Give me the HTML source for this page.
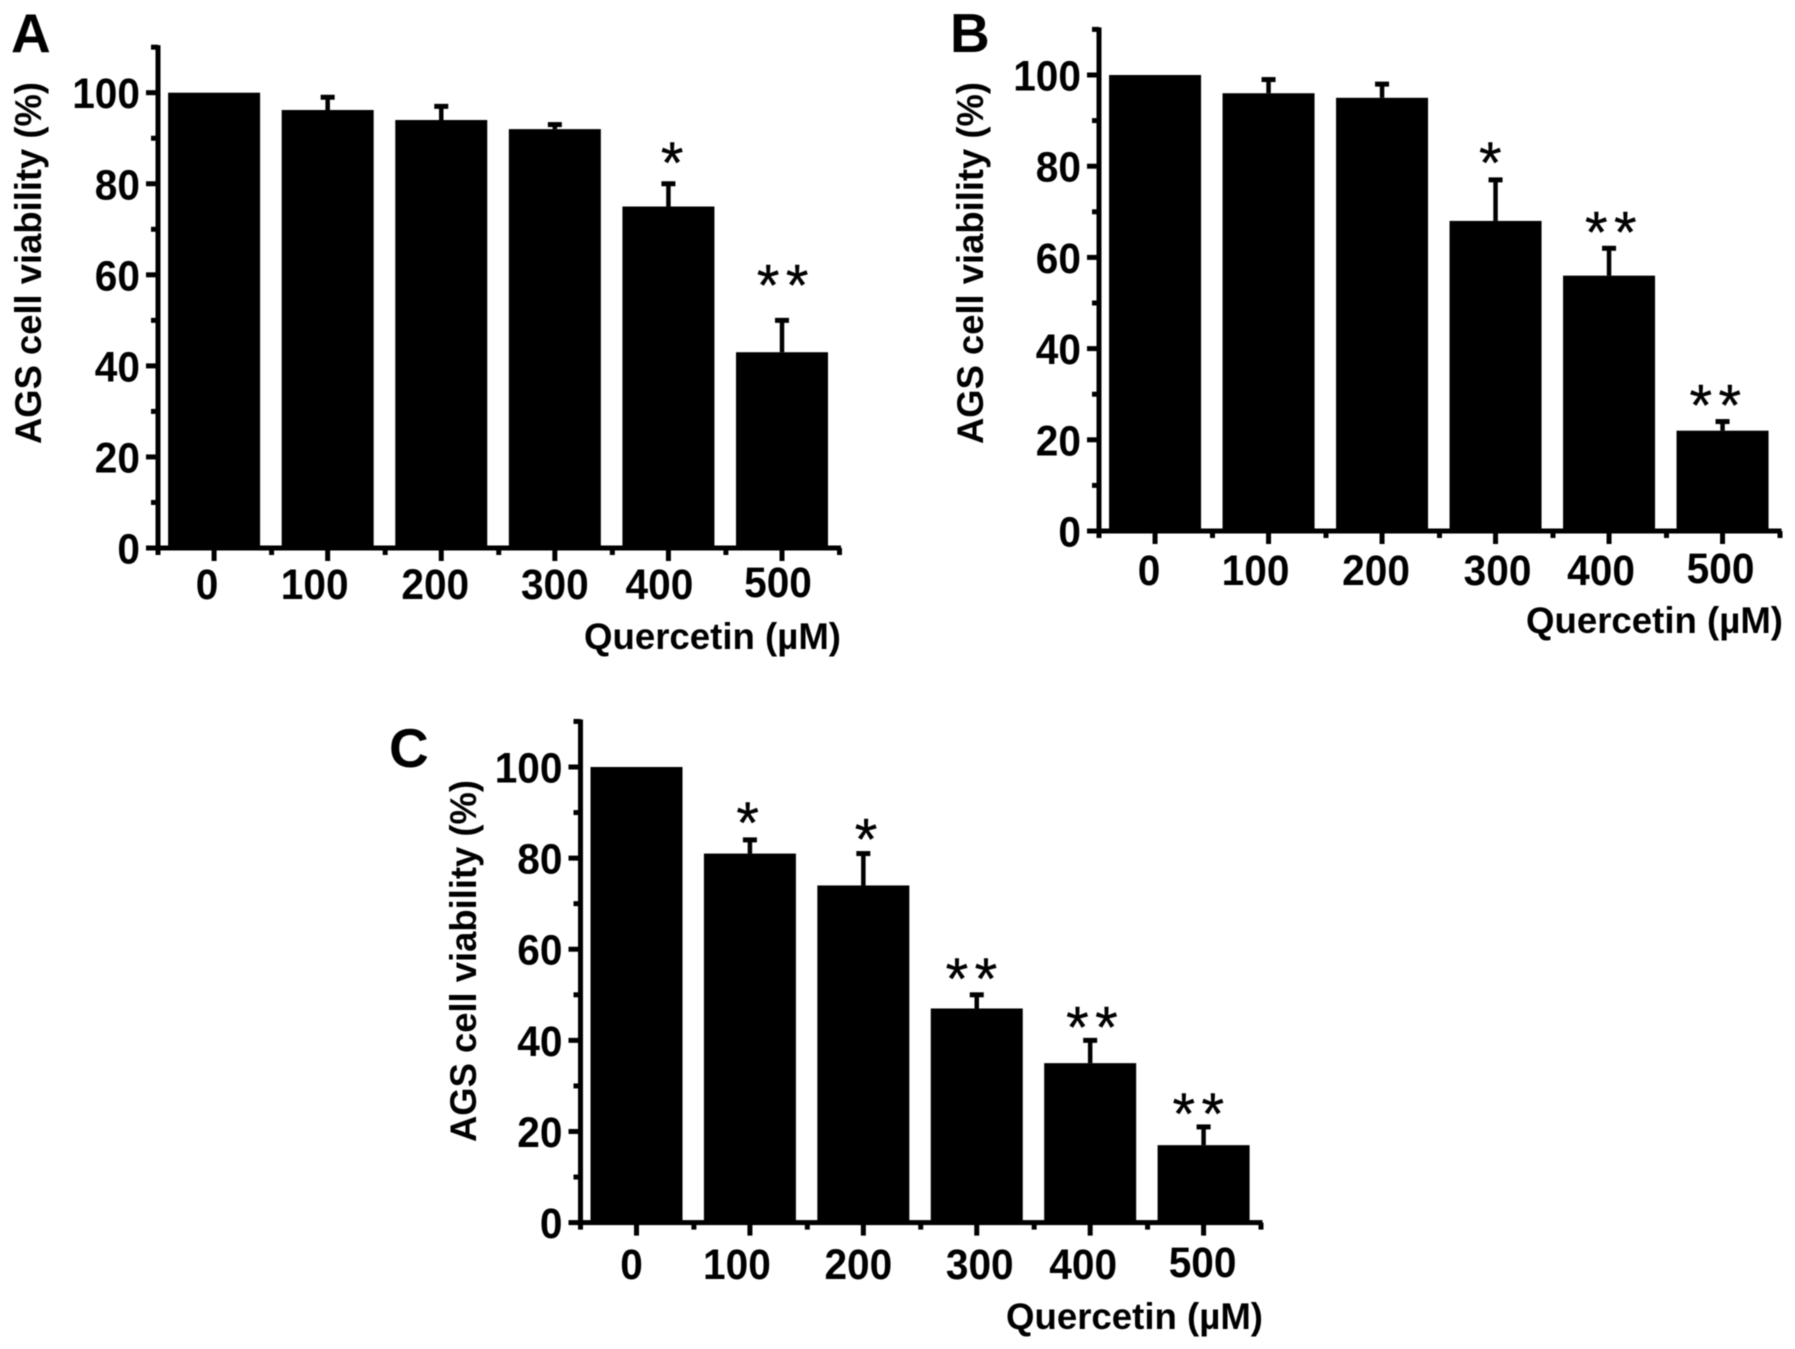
<!DOCTYPE html>
<html>
<head>
<meta charset="utf-8">
<title>AGS cell viability vs Quercetin</title>
<style>
html,body{margin:0;padding:0;background:#fff;}
svg{display:block;filter:blur(0.5px);}
text{font-family:"Liberation Sans",Arial,sans-serif;font-weight:bold;fill:#000;}
</style>
</head>
<body>
<svg id="figure" width="1795" height="1349" viewBox="0 0 1795 1349" xmlns="http://www.w3.org/2000/svg"></svg>
<script>
const categories = ["0", "100", "200", "300", "400", "500"];
const yTickValues = [0, 20, 40, 60, 80, 100];
const yMinorValues = [10, 30, 50, 70, 90, 110];
const panelAValues = [100, 96.2, 94, 92, 75, 43];
const panelAErrorTops = [100, 99, 97, 93, 80, 50];
const panelAStars = [0, 0, 0, 0, 1, 2];
const panelBValues = [100, 96, 95, 68, 56, 22];
const panelBErrorTops = [100, 99, 98, 77, 62, 24];
const panelBStars = [0, 0, 0, 1, 2, 2];
const panelCValues = [100, 81, 74, 47, 35, 17];
const panelCErrorTops = [100, 84, 81, 50, 40, 21];
const panelCStars = [0, 1, 1, 2, 2, 2];
const yTitle = "AGS cell viability (%)";
const xTitle = "Quercetin (\u00B5M)";

const NS = "http://www.w3.org/2000/svg";
const root = document.getElementById("figure");

function mk(parent, tag, attrs, txt) {
  const el = document.createElementNS(NS, tag);
  for (const k in attrs) el.setAttribute(k, attrs[k]);
  if (txt !== undefined) el.textContent = txt;
  parent.appendChild(el);
  return el;
}

function drawPanel(p) {
  const g = mk(root, "g", {});
  
  

  const step = (p.right - p.x0) / categories.length;
  const xPos = i => p.x0 + step * (i + 0.5) - 0.7;
  const yPos = v => p.base - (p.base - p.y100) * v / 100;
  const digitWidth = 22.6;

  const letter = mk(g, "text", {x: p.letterX, y: p.letterY, "font-size": 55}, p.letter);
  
  

  p.values.forEach((v, i) => {
    const cx = xPos(i);
    const top = yPos(p.errs[i]);
    if (p.errs[i] > v) {
      const stem = mk(g, "rect", {x: cx - 2.25, y: top, width: 4.5, height: yPos(v) - top, fill: "#000"});
      
      
      const cap = mk(g, "rect", {x: cx - 7, y: top - 2.5, width: 14, height: 5, fill: "#000"});
      
      
    }
    const bar = mk(g, "rect", {x: cx - 46, y: yPos(v), width: 92, height: p.base - yPos(v), fill: "#000"});
    
    

    for (let s = 0; s < p.stars[i]; s++) {
      const n = p.stars[i];
      const sx = cx + 0.7 + p.starNudge[i] + (s - (n - 1) / 2) * 29;
      const sy = top - p.starGap[i] + 28;
      const star = mk(g, "text", {x: sx, y: sy, "font-size": 58, "text-anchor": "middle", stroke: "#000", "stroke-width": 0.4, style: "font-weight:normal"}, "*");
      
      
    }
  });

  const yAxis = mk(g, "rect", {x: p.x0 - 2.5, y: yPos(110) - 2, width: 5, height: p.base - yPos(110) + 4, fill: "#000"});
  
  
  const xAxis = mk(g, "rect", {x: p.x0 - 2.5, y: p.base - 2.5, width: p.right - p.x0 + 4, height: 5, fill: "#000"});
  
  

  yTickValues.forEach(v => {
    const t = mk(g, "rect", {x: p.x0 - 12, y: yPos(v) - 2.5, width: 12, height: 5, fill: "#000"});
    
    
    const s = String(v);
    const lab = mk(g, "text", {x: p.x0 - 18, y: yPos(v) + 15.5, "font-size": 43, "text-anchor": "end", textLength: s.length * digitWidth, lengthAdjust: "spacingAndGlyphs"}, s);
    
    
  });
  yMinorValues.forEach(v => {
    const t = mk(g, "rect", {x: p.x0 - 7, y: yPos(v) - 2.5, width: 7, height: 5, fill: "#000"});
    
    
  });

  categories.forEach((c, i) => {
    const t = mk(g, "rect", {x: xPos(i) - 2.5, y: p.base, width: 5, height: 13, fill: "#000"});
    
    
    const lab = mk(g, "text", {x: xPos(i) + 1 + p.labelNudge[i], y: p.labelY - (i === 5 ? 2 : 0), "font-size": 43, "text-anchor": "middle", textLength: c.length * digitWidth, lengthAdjust: "spacingAndGlyphs"}, c);
    
    
  });
  for (let i = 0; i <= categories.length; i++) {
    const t = mk(g, "rect", {x: p.x0 + step * i - 2.5, y: p.base, width: 5, height: 7, fill: "#000"});
    
    
  }

  const yt = mk(g, "text", {
    transform: "translate(" + p.yTitleX + "," + p.yTitleBottom + ") rotate(-90)",
    "font-size": 37, textLength: 362, lengthAdjust: "spacingAndGlyphs"
  }, yTitle);
  
  

  const xt = mk(g, "text", {
    x: p.xTitleX, y: p.xTitleY, "font-size": 37, textLength: 257, lengthAdjust: "spacingAndGlyphs"
  }, xTitle);
  
  
}

drawPanel({
  letter: "A", letterX: 11, letterY: 52,
  x0: 158, right: 839.5, base: 548, y100: 92.7,
  values: panelAValues, errs: panelAErrorTops, stars: panelAStars,
  starNudge: [0, 0, 0, 0, 3, 0], starGap: [0, 0, 0, 0, 29, 43],
  labelNudge: [-8, -14, -7, -1, -10, -5], labelY: 599,
  yTitleX: 41, yTitleBottom: 444, xTitleX: 584, xTitleY: 649
});
drawPanel({
  letter: "B", letterX: 950, letterY: 52,
  x0: 1099, right: 1780, base: 531, y100: 75,
  values: panelBValues, errs: panelBErrorTops, stars: panelBStars,
  starNudge: [0, 0, 0, -6, 1, -8], starGap: [0, 0, 0, 25, 24, 24],
  labelNudge: [-7, -14, -7, 1, -9, -3], labelY: 585,
  yTitleX: 983, yTitleBottom: 444, xTitleX: 1526, xTitleY: 633
});
drawPanel({
  letter: "C", letterX: 389, letterY: 767,
  x0: 580.5, right: 1261, base: 1222.6, y100: 767,
  values: panelCValues, errs: panelCErrorTops, stars: panelCStars,
  starNudge: [0, -3, 2, -6, 1, -6], starGap: [0, 25, 22, 24, 21, 21],
  labelNudge: [-6, -14, -6, 2, -8, -2], labelY: 1279,
  yTitleX: 476, yTitleBottom: 1142, xTitleX: 1006, xTitleY: 1329
});
</script>
</body>
</html>
